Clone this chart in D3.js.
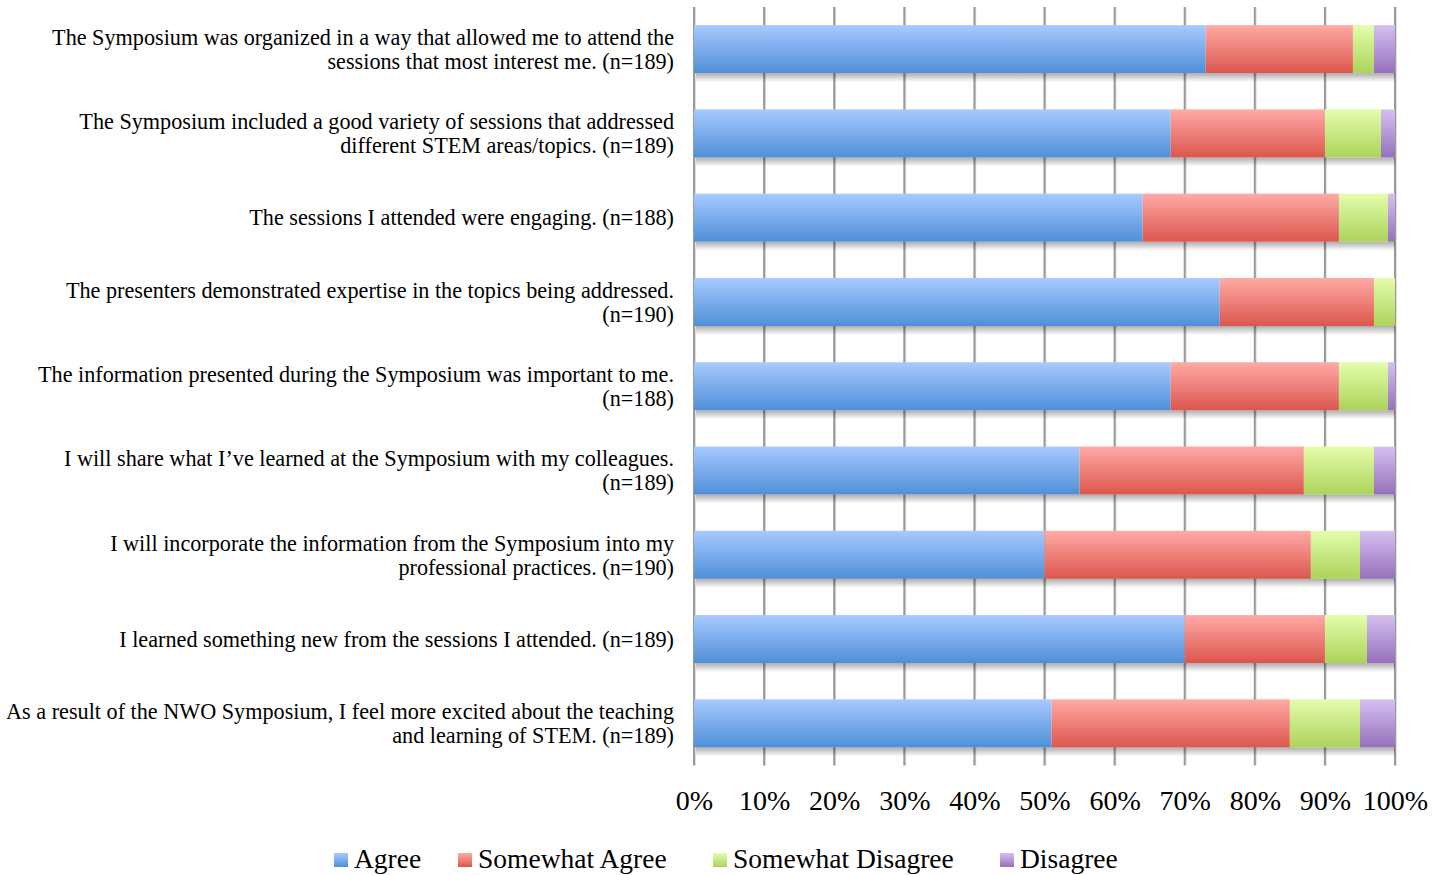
<!DOCTYPE html>
<html>
<head>
<meta charset="utf-8">
<script src="https://cdn.jsdelivr.net/npm/d3@7"></script>
<style>
  html, body { margin: 0; padding: 0; background: #ffffff; }
  svg { display: block; }
  text { font-family: "Liberation Serif", "DejaVu Serif", serif; fill: #000; }
</style>
</head>
<body>
<svg id="chart" width="1445" height="875"></svg>
<script>
// ---- Data ----
const categories = [
  ["The Symposium was organized in a way that allowed me to attend the", "sessions that most interest me. (n=189)"],
  ["The Symposium included a good variety of sessions that addressed", "different STEM areas/topics. (n=189)"],
  ["The sessions I attended were engaging. (n=188)"],
  ["The presenters demonstrated expertise in the topics being addressed.", "(n=190)"],
  ["The information presented during the Symposium was important to me.", "(n=188)"],
  ["I will share what I\u2019ve learned at the Symposium with my colleagues.", "(n=189)"],
  ["I will incorporate the information from the Symposium into my", "professional practices. (n=190)"],
  ["I learned something new from the sessions I attended. (n=189)"],
  ["As a result of the NWO Symposium, I feel more excited about the teaching", "and learning of STEM. (n=189)"]
];
const seriesNames = ["Agree", "Somewhat Agree", "Somewhat Disagree", "Disagree"];
const agree            = [73, 68, 64, 75, 68, 55, 50, 70, 51];
const somewhatAgree    = [21, 22, 28, 22, 24, 32, 38, 20, 34];
const somewhatDisagree = [ 3,  8,  7,  3,  7, 10,  7,  6, 10];
const disagree         = [ 3,  2,  1,  0,  1,  3,  5,  4,  5];
const tickValues = [0, 10, 20, 30, 40, 50, 60, 70, 80, 90, 100];
const tickLabels = ["0%", "10%", "20%", "30%", "40%", "50%", "60%", "70%", "80%", "90%", "100%"];

const colorStops = [
  ["#a7caff", "#4f8fd8"],
  ["#ffaaa6", "#dc564d"],
  ["#e4fdac", "#acd35a"],
  ["#d5c0f0", "#9670bb"]
];

// ---- Layout ----
const svg = d3.select("#chart");
const plotLeft = 694, plotRight = 1395, plotTop = 7, plotBottom = 765.5;

const x = d3.scaleLinear().domain([0, 100]).range([plotLeft, plotRight]);
const idx = d3.range(categories.length);
const y = d3.scaleBand().domain(idx).range([plotTop, plotBottom]).paddingInner(0.43).paddingOuter(0.215);

const defs = svg.append("defs");
colorStops.forEach((c, i) => {
  const g = defs.append("linearGradient").attr("id", "grad" + i)
    .attr("x1", 0).attr("y1", 0).attr("x2", 0).attr("y2", 1);
  g.append("stop").attr("offset", "0%").attr("stop-color", c[0]);
  g.append("stop").attr("offset", "100%").attr("stop-color", c[1]);
});
const sh = defs.append("linearGradient").attr("id", "shadow")
  .attr("x1", 0).attr("y1", 0).attr("x2", 0).attr("y2", 1);
sh.append("stop").attr("offset", "0%").attr("stop-color", "#000").attr("stop-opacity", 0.32);
sh.append("stop").attr("offset", "100%").attr("stop-color", "#000").attr("stop-opacity", 0);

// gridlines
const grid = svg.append("g");
grid.selectAll("line.g2").data(tickValues).join("line")
  .attr("x1", d => x(d) + 1.2).attr("x2", d => x(d) + 1.2)
  .attr("y1", plotTop).attr("y2", plotBottom)
  .attr("stroke", "#d8d8d8").attr("stroke-width", 1.2);
grid.selectAll("line.g").data(tickValues).join("line")
  .attr("x1", d => x(d)).attr("x2", d => x(d))
  .attr("y1", plotTop).attr("y2", plotBottom)
  .attr("stroke", "#9a9a9a").attr("stroke-width", 2);

// stacked data
const table = idx.map(i => ({
  i,
  "Agree": agree[i],
  "Somewhat Agree": somewhatAgree[i],
  "Somewhat Disagree": somewhatDisagree[i],
  "Disagree": disagree[i]
}));
const stacked = d3.stack().keys(seriesNames)(table);

// shadows under bars
svg.append("g").selectAll("rect").data(table).join("rect")
  .attr("x", x(0) + 2)
  .attr("y", d => y(d.i) + y.bandwidth())
  .attr("width", x(100) - x(0) - 2)
  .attr("height", 9)
  .attr("fill", "url(#shadow)");

const barsG = svg.append("g");
stacked.forEach((s, si) => {
  barsG.append("g").selectAll("rect").data(s).join("rect")
    .attr("x", d => x(d[0]))
    .attr("y", d => y(d.data.i))
    .attr("width", d => Math.max(0, x(d[1]) - x(d[0])))
    .attr("height", y.bandwidth())
    .attr("fill", "url(#grad" + si + ")");
});

// category labels
const labG = svg.append("g");
idx.forEach(i => {
  const lines = categories[i];
  const cy = y(i) + y.bandwidth() / 2;
  const lh = 24;
  const t = labG.append("text")
    .attr("text-anchor", "end")
    .attr("font-size", 22.2)
    .attr("y", cy - (lines.length - 1) * lh / 2);
  lines.forEach((ln, k) => {
    t.append("tspan").attr("x", 674).attr("dy", k === 0 ? "0.35em" : lh).text(ln);
  });
});

// x axis tick labels
const axis = d3.axisBottom(x).tickValues(tickValues)
  .tickFormat((d, k) => tickLabels[k]).tickSize(0).tickPadding(0);
const ax = svg.append("g").attr("transform", `translate(0, 800)`).call(axis);
ax.select(".domain").remove();
ax.selectAll("text").attr("font-size", 28).attr("dy", "0.35em")
  .attr("font-family", "Liberation Serif").attr("fill", "#000");

// legend
const legendX = [334, 458, 713, 1000];
const lg = svg.append("g").attr("transform", "translate(0, 859)");
seriesNames.forEach((name, i) => {
  const g = lg.append("g").attr("transform", `translate(${legendX[i]}, 0)`);
  g.append("rect").attr("x", 0).attr("y", -6).attr("width", 14).attr("height", 14)
    .attr("fill", "url(#grad" + i + ")");
  g.append("text").attr("x", 20).attr("dy", "0.33em").attr("font-size", 27.5).text(name);
});
</script>
</body>
</html>
